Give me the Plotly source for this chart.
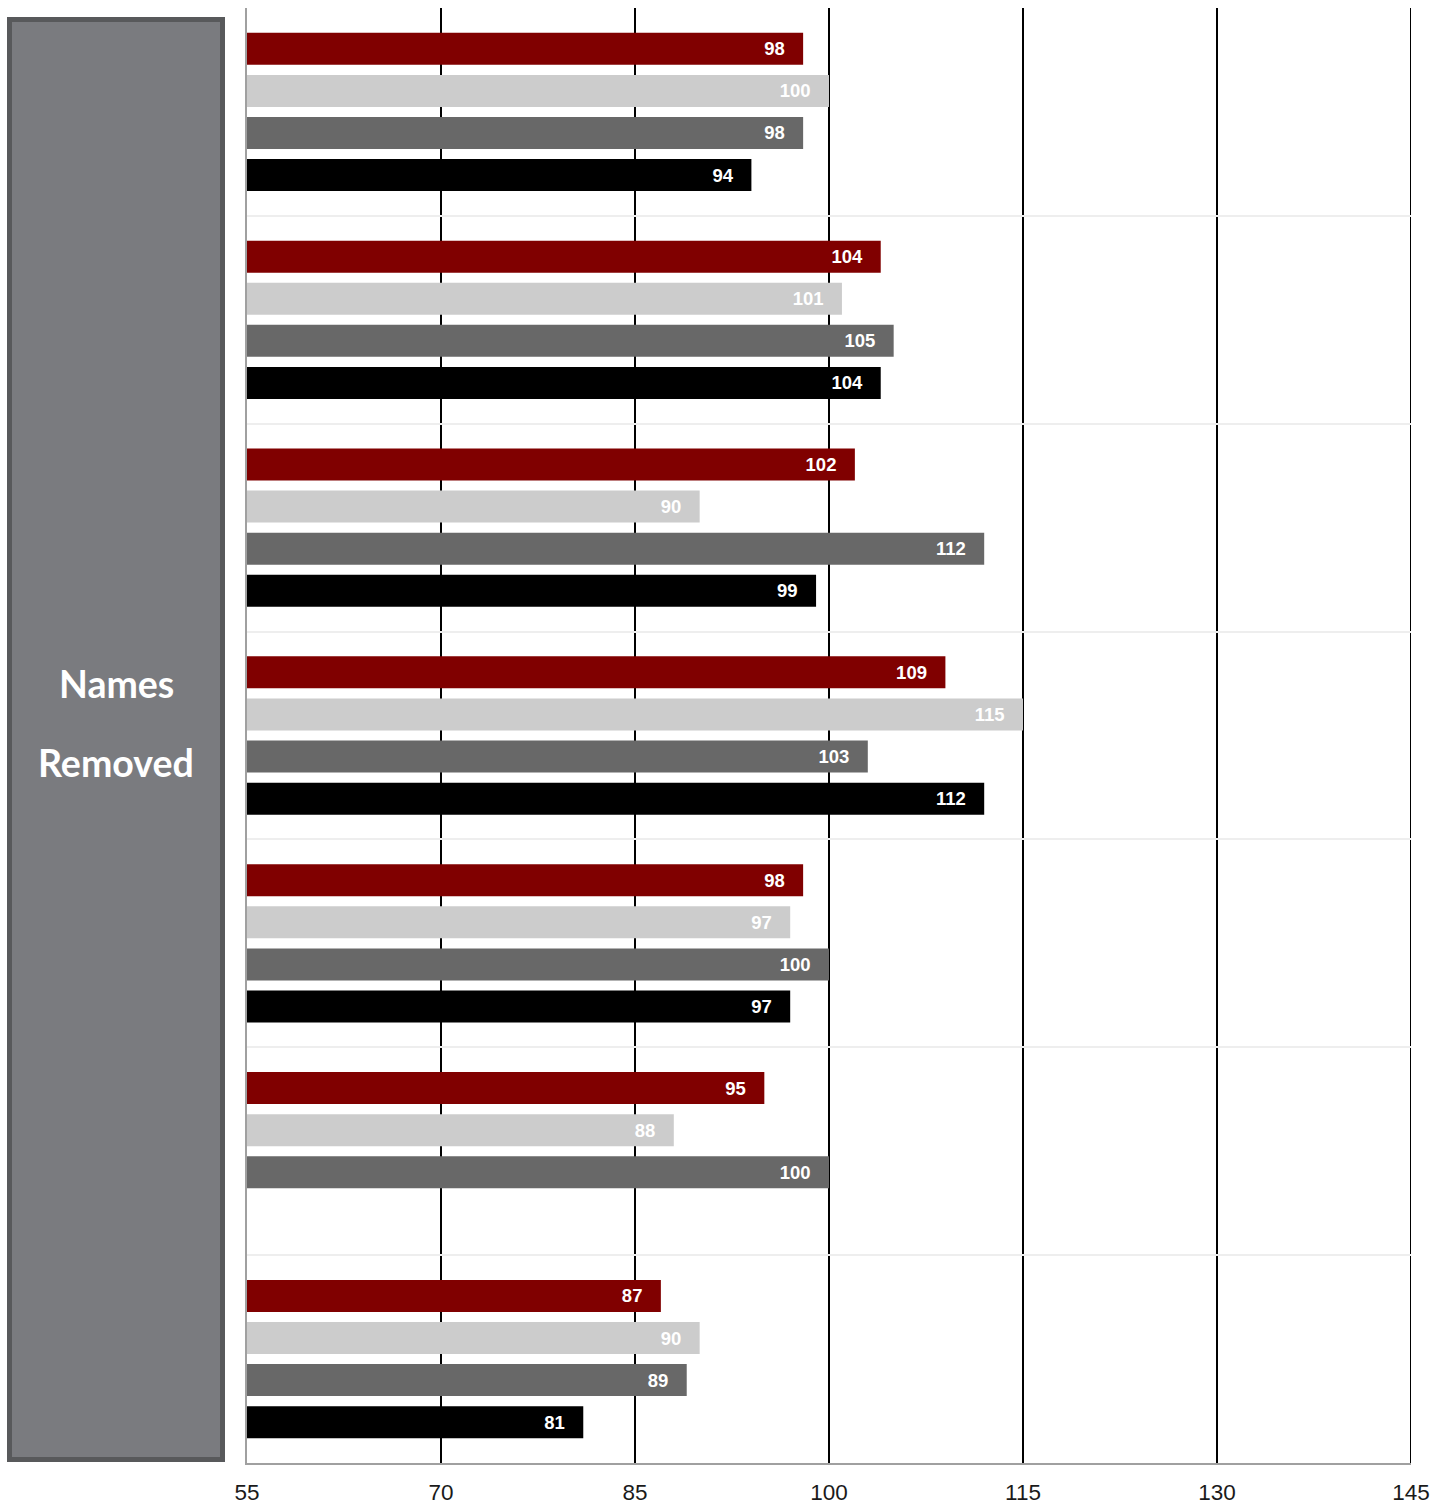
import plotly.graph_objects as go

groups = ["Group 1", "Group 2", "Group 3", "Group 4", "Group 5", "Group 6", "Group 7"]
series_names = ["Series A", "Series B", "Series C", "Series D"]
series_a = [98, 104, 102, 109, 98, 95, 87]
series_b = [100, 101, 90, 115, 97, 88, 90]
series_c = [98, 105, 112, 103, 100, 100, 89]
series_d = [94, 104, 99, 112, 97, None, 81]
colors = ["#800000", "#cccccc", "#686868", "#000000"]
x_ticks = [55, 70, 85, 100, 115, 130, 145]
box_lines = ["Names", "Removed"]

W, H = 1437, 1507
L, R, T, B = 247, 26, 8, 44
pw, ph = W - L - R, H - T - B

def px_x(x):
    return (x - L) / pw

def px_y(y):
    return (H - B - y) / ph

fig = go.Figure()
ypos = list(range(len(groups)))
for name, vals, col in zip(series_names, [series_a, series_b, series_c, series_d], colors):
    fig.add_trace(go.Bar(
        y=ypos, x=vals, orientation="h", name=name,
        marker=dict(color=col, line=dict(width=0)),
        text=[("" if v is None else f"{v}   ") for v in vals],
        textposition="inside", insidetextanchor="end",
        textfont=dict(family="Liberation Sans, Arial", size=18.5, color="white", weight="bold"),
        constraintext="none",
        cliponaxis=False,
        hoverinfo="skip",
    ))

fig.update_layout(
    width=W, height=H,
    margin=dict(l=L, r=R, t=T, b=B, autoexpand=False),
    paper_bgcolor="white", plot_bgcolor="white",
    barmode="group", bargap=0.19, bargroupgap=0.24,
    showlegend=False,
    xaxis=dict(
        range=[55, 145], tickvals=x_ticks, ticktext=[str(t) for t in x_ticks],
        showgrid=True, gridcolor="#000000", gridwidth=2,
        showline=True, linecolor="#a0a0a0", linewidth=2,
        ticks="", ticklabelstandoff=8, automargin=False,
        tickfont=dict(family="Liberation Sans, Arial", size=22.5, color="#1a1a1a"),
        zeroline=False, fixedrange=True,
    ),
    yaxis=dict(
        range=[len(groups) - 0.5, -0.5],
        tickvals=[i - 0.5 for i in range(len(groups) + 1)],
        showticklabels=False, ticks="", automargin=False,
        showgrid=True, gridcolor="#eeeeee", gridwidth=2,
        showline=True, linecolor="#a0a0a0", linewidth=2,
        zeroline=False, fixedrange=True,
    ),
)

# right-most gridline (plotly drops the one on the plot edge)
fig.add_shape(
    type="line", xref="x", yref="paper", x0=x_ticks[-1], x1=x_ticks[-1], y0=0, y1=1,
    line=dict(color="#000000", width=2), layer="below",
)

# left label box
fig.add_shape(
    type="rect", xref="paper", yref="paper",
    x0=px_x(9.5), x1=px_x(222.5), y0=px_y(1459.5), y1=px_y(19.5),
    fillcolor="#7a7b7f", line=dict(color="#58595b", width=5), layer="above",
)
for i, txt in enumerate(box_lines):
    fig.add_annotation(
        xref="paper", yref="paper", x=px_x(116), y=px_y(683 + 80 * i),
        text=txt, showarrow=False, xanchor="center", yanchor="middle",
        font=dict(family="Lato", size=37.5, color="white", weight="bold"),
    )

fig.write_html("out.html")
